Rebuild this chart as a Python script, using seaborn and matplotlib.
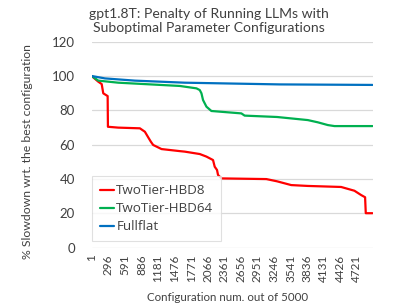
import pandas as pd
import matplotlib
matplotlib.use("Agg")
import matplotlib.pyplot as plt
import seaborn as sns

# breakpoints (config number, % of best)
hbd8_x = [1, 118, 179, 207, 285, 290, 474, 859, 948, 1006, 1054, 1095, 1244, 1569, 1658, 1925,
          2044, 2161, 2191, 2232, 2250, 2310, 3110, 3300, 3553, 3848, 4441, 4678, 4797, 4868,
          4880, 5000]
hbd8_y = [100, 96.7, 95.3, 89.9, 88.3, 70.4, 69.9, 69.5, 67.5, 64.3, 61.7, 59.8, 57.4, 56.2, 55.9, 54.5,
          53.0, 51.0, 47.1, 45.2, 42.3, 40.3, 39.9, 38.6, 36.4, 35.9, 35.3, 33.1, 30.6, 29.3,
          20.0, 20.0]

hbd64_x = [1, 118, 474, 1569, 1866, 1925, 1955, 1983, 2044, 2132, 2665, 2724, 3300, 3848, 4026,
           4204, 4323, 5000]
hbd64_y = [100, 97.3, 96.1, 94.2, 92.8, 91.8, 89.9, 86.0, 82.1, 79.6, 78.2, 76.9, 76.1, 74.3, 73.0,
           71.4, 70.8, 70.8]

flat_x = [1, 237, 770, 1658, 3346, 5000]
flat_y = [100, 98.6, 97.3, 96.1, 95.1, 94.8]

series = ["TwoTier-HBD8", "TwoTier-HBD64", "Fullflat"]
colors = ["#FF0000", "#00B050", "#0070C0"]
xtick_vals = list(range(1, 5000, 295))

df = pd.concat([
    pd.DataFrame({"config": hbd8_x, "value": hbd8_y, "series": series[0]}),
    pd.DataFrame({"config": hbd64_x, "value": hbd64_y, "series": series[1]}),
    pd.DataFrame({"config": flat_x, "value": flat_y, "series": series[2]}),
])

sns.set_style("white")
plt.rcParams["font.family"] = ["Lato", "DejaVu Sans"]

W, H = 399, 308
fig = plt.figure(figsize=(W / 100, H / 100), dpi=100)
ax = fig.add_axes([0.2298, 0.1964, 0.7038, 0.6682])

sns.lineplot(data=df, x="config", y="value", hue="series", palette=colors,
             estimator=None, sort=False, linewidth=1.6, ax=ax)

ax.set_xlim(1, 5000)
ax.set_ylim(0, 120)
ax.set_yticks(range(0, 121, 20))
ax.set_xticks(xtick_vals)
ax.set_xticklabels([str(v) for v in xtick_vals], rotation=90, fontsize=8.5, color="#404040")
ax.tick_params(axis="y", labelsize=9.5, labelcolor="#404040", length=0, pad=12)
ax.tick_params(axis="x", length=0, pad=5)
ax.yaxis.grid(True, color="#d9d9d9", linewidth=0.9)
for s in ax.spines.values():
    s.set_visible(False)
ax.set_xlabel("")
ax.set_ylabel("")

title = fig.text(0.5, 1.0, "gpt1.8T: Penalty of Running LLMs with\nSuboptimal Parameter Configurations",
                 ha="center", va="top", fontsize=11.6, color="#404040", linespacing=1.25)
xlab = fig.text(0.5, 0.0, "Configuration num. out of 5000", ha="center", va="bottom",
                fontsize=9, color="#404040")
ylab = fig.text(0.05, 0.5, "% Slowdown wrt. the best configuration", ha="center", va="center",
                rotation=90, fontsize=9.5, color="#404040")

leg = ax.legend(loc="lower left", bbox_to_anchor=(0.0, 0.03), frameon=True,
                prop={"family": "Open Sans", "size": 9.6}, fancybox=False, edgecolor="#d9d9d9",
                handlelength=1.1, handletextpad=0.15, borderpad=0.6,
                borderaxespad=0.0, labelspacing=0.38, title=None)
leg.get_frame().set_linewidth(0.8)
for t in leg.get_texts():
    t.set_color("#404040")


def fit_text(txt, left, right, top, bottom, vertical=False):
    # scale font so the text spans the given pixel box (top/bottom measured from figure top)
    fig.canvas.draw()
    r = fig.canvas.get_renderer()
    bb = txt.get_window_extent(r)
    if vertical:
        txt.set_fontsize(txt.get_fontsize() * (bottom - top) / bb.height)
    else:
        txt.set_fontsize(txt.get_fontsize() * (right - left) / bb.width)
    fig.canvas.draw()
    bb = txt.get_window_extent(r)
    x0, y0 = txt.get_position()
    cx = (left + right) / 2
    cy = H - (top + bottom) / 2
    txt.set_position((x0 + (cx - (bb.x0 + bb.x1) / 2) / W,
                      y0 + (cy - (bb.y0 + bb.y1) / 2) / H))


fit_text(title, 89, 328, 4, 38)
fit_text(xlab, 147, 308, 291, 304)
fit_text(ylab, 21, 34, 43, 260, vertical=True)

fig.savefig("out.png", dpi=100)
